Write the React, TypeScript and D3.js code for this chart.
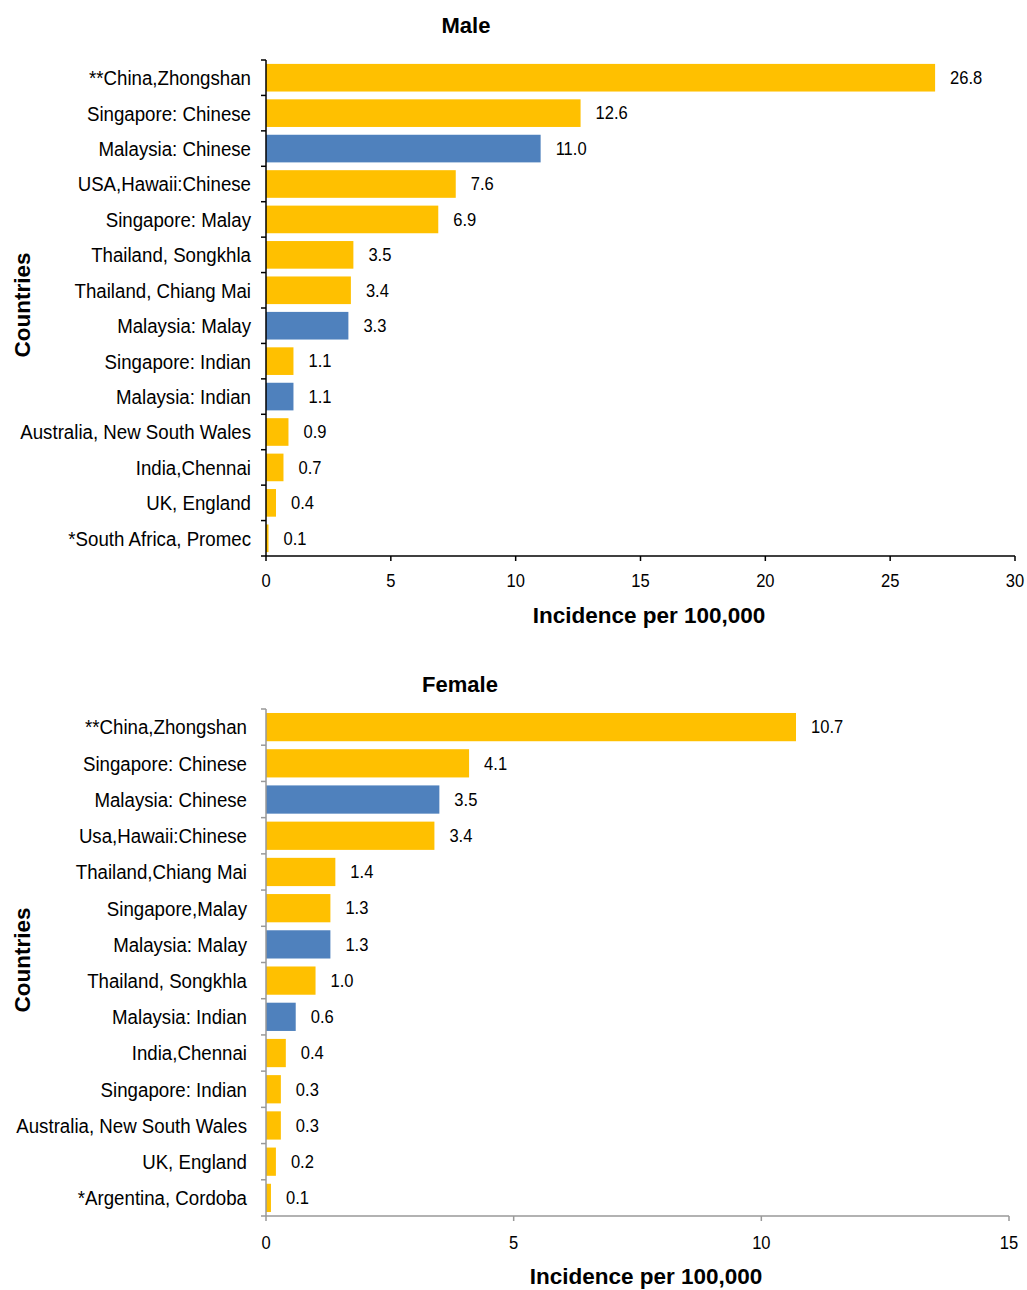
import React from "react";
import * as d3 from "d3";

const maleCategories = ["**China,Zhongshan","Singapore: Chinese","Malaysia: Chinese","USA,Hawaii:Chinese","Singapore: Malay","Thailand, Songkhla","Thailand, Chiang Mai","Malaysia: Malay","Singapore: Indian","Malaysia: Indian","Australia, New South Wales","India,Chennai","UK, England","*South Africa, Promec"];
const maleValues = [26.8,12.6,11.0,7.6,6.9,3.5,3.4,3.3,1.1,1.1,0.9,0.7,0.4,0.1];
const maleMalaysia = [false,false,true,false,false,false,false,true,false,true,false,false,false,false];
const maleTicks = [0,5,10,15,20,25,30];

const femaleCategories = ["**China,Zhongshan","Singapore: Chinese","Malaysia: Chinese","Usa,Hawaii:Chinese","Thailand,Chiang Mai","Singapore,Malay","Malaysia: Malay","Thailand, Songkhla","Malaysia: Indian","India,Chennai","Singapore: Indian","Australia, New South Wales","UK, England","*Argentina, Cordoba"];
const femaleValues = [10.7,4.1,3.5,3.4,1.4,1.3,1.3,1.0,0.6,0.4,0.3,0.3,0.2,0.1];
const femaleMalaysia = [false,false,true,false,false,false,true,false,true,false,false,false,false,false];
const femaleTicks = [0,5,10,15];

const YELLOW = "#FFC000";
const BLUE = "#4F81BD";
const FONT = "'Liberation Sans Narrow', 'Arial Narrow', 'Liberation Sans', Arial, sans-serif";

type PanelProps = {
  title: string; titleX: number; titleY: number;
  cats: string[]; vals: number[]; flags: boolean[]; ticks: number[];
  x0: number; x1: number; y0: number; y1: number; max: number;
  axisColor: string; labelRight: number; yLabelY: number; xLabelX: number; xLabelY: number; tickLabelDy: number;
};

function Panel(p: PanelProps) {
  const x = d3.scaleLinear().domain([0, p.max]).range([p.x0, p.x1]);
  const y = d3.scaleBand<string>().domain(p.cats).range([p.y0, p.y1]).paddingInner(0.22).paddingOuter(0.11);
  const step = y.step();
  return (
    <g>
      <text x={p.titleX} y={p.titleY} textAnchor="middle" fontFamily={FONT} fontWeight="bold" fontSize={22}>{p.title}</text>
      {p.cats.map((c, i) => {
        const cy = (y(c) as number) + y.bandwidth() / 2;
        return (
          <g key={c}>
            <rect x={x(0)} y={y(c)} width={x(p.vals[i]) - x(0)} height={y.bandwidth()} fill={p.flags[i] ? BLUE : YELLOW} />
            <text transform={`translate(${x(p.vals[i]) + 15},${cy}) scale(0.92,1)`} dy="0.35em" fontFamily={FONT} fontSize={18}>{p.vals[i].toFixed(1)}</text>
            <text transform={`translate(${p.labelRight},${cy}) scale(0.89,1)`} dy="0.35em" textAnchor="end" fontFamily={FONT} fontSize={21}>{c}</text>
          </g>
        );
      })}
      <line x1={p.x0} x2={p.x0} y1={p.y0} y2={p.y1} stroke={p.axisColor} strokeWidth={1.5} />
      {d3.range(p.cats.length + 1).map(i => (
        <line key={"yt" + i} x1={p.x0 - 5} x2={p.x0} y1={p.y0 + i * step} y2={p.y0 + i * step} stroke={p.axisColor} strokeWidth={1.5} />
      ))}
      <line x1={p.x0} x2={p.x1} y1={p.y1} y2={p.y1} stroke={p.axisColor} strokeWidth={1.5} />
      {p.ticks.map(t => (
        <g key={"xt" + t}>
          <line x1={x(t)} x2={x(t)} y1={p.y1} y2={p.y1 + 5} stroke={p.axisColor} strokeWidth={1.5} />
          <text transform={`translate(${x(t)},${p.y1 + p.tickLabelDy}) scale(0.92,1)`} textAnchor="middle" fontFamily={FONT} fontSize={18}>{t}</text>
        </g>
      ))}
      <text transform={`translate(30,${p.yLabelY}) rotate(-90)`} textAnchor="middle" fontFamily={FONT} fontWeight="bold" fontSize={22.5}>Countries</text>
      <text x={p.xLabelX} y={p.xLabelY} textAnchor="middle" fontFamily={FONT} fontWeight="bold" fontSize={22.5}>Incidence per 100,000</text>
    </g>
  );
}

export default function App() {
  return (
    <svg width={1027} height={1290} style={{ position: "absolute", left: 0, top: 0, background: "#fff" }}>
      <Panel title="Male" titleX={466} titleY={33} cats={maleCategories} vals={maleValues} flags={maleMalaysia} ticks={maleTicks}
        x0={266} x1={1015} y0={60} y1={556} max={30} axisColor="#000" labelRight={251} yLabelY={305} xLabelX={649} xLabelY={623} tickLabelDy={31} />
      <Panel title="Female" titleX={460} titleY={692} cats={femaleCategories} vals={femaleValues} flags={femaleMalaysia} ticks={femaleTicks}
        x0={266} x1={1009} y0={709} y1={1216} max={15} axisColor="#999" labelRight={247} yLabelY={960} xLabelX={646} xLabelY={1284} tickLabelDy={33} />
    </svg>
  );
}
